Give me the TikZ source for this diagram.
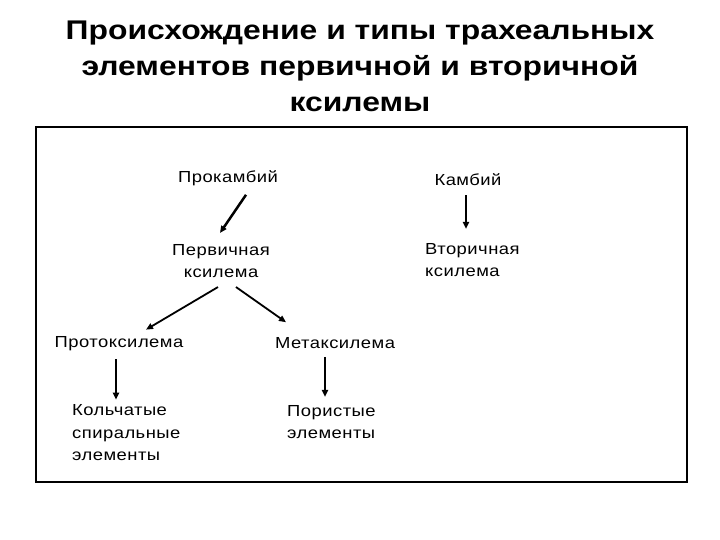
\documentclass[tikz,border=0pt]{standalone}
\usepackage{fontspec}
\setmainfont{Liberation Sans}
\newfontfamily\bodyfont[FakeStretch=1.15,LetterSpace=3]{Liberation Sans}
\newfontfamily\titlefont[FakeStretch=1.18]{Liberation Sans}
\usetikzlibrary{arrows.meta,calc}
\begin{document}
\begin{tikzpicture}[x=1pt,y=-1pt,
  lbl/.style={font=\bodyfont\fontsize{16}{22.5}\selectfont, inner sep=0pt, align=center},
  lbll/.style={font=\bodyfont\fontsize{16}{22.5}\selectfont, inner sep=0pt, align=left, anchor=west},
  arr/.style={draw=black, line width=1.8pt, -{Triangle[length=7pt,width=6pt]}},
  ttl/.style={font=\titlefont\bfseries\fontsize{27}{36}\selectfont, align=center, inner sep=0pt}]
\useasboundingbox (0,0) rectangle (720,540);
\node[ttl] (title) at (360,66) {Происхождение и типы трахеальных\\элементов первичной и вторичной\\ксилемы};
\draw[line width=2.5pt] (36,127) rectangle (687,482);
\node[lbl] (prok) at (228,178) {Прокамбий};
\node[lbl] (kamb) at (468,180) {Камбий};
\node[lbl] (perv) at (221,261) {Первичная\\ксилема};
\node[lbll] (vtor) at (425,260) {Вторичная\\ксилема};
\node[lbl] (proto) at (119,344) {Протоксилема};
\node[lbl] (meta) at (335,343) {Метаксилема};
\node[lbll] (kol) at (72,433) {Кольчатые\\спиральные\\элементы};
\node[lbll] (por) at (287,422) {Пористые\\элементы};
\draw[arr, line width=2.5pt] ($(prok.south)+(18,9)$) -- ($(perv.north)+(-1,-11)$);
\draw[arr] ($(kamb.south)+(-2,9)$) -- ($(vtor.north west)+(41,-14)$);
\draw[arr] ($(perv.south)+(-3,9)$) -- ($(proto.north)+(27,-7)$);
\draw[arr] ($(perv.south)+(15,9)$) -- ($(meta.north)+(-49,-15)$);
\draw[arr] ($(proto.south)+(-3,8)$) -- ($(kol.north west)+(44,-5)$);
\draw[arr] ($(meta.south)+(-10,8)$) -- ($(por.north west)+(38,-8)$);
\end{tikzpicture}
\end{document}
